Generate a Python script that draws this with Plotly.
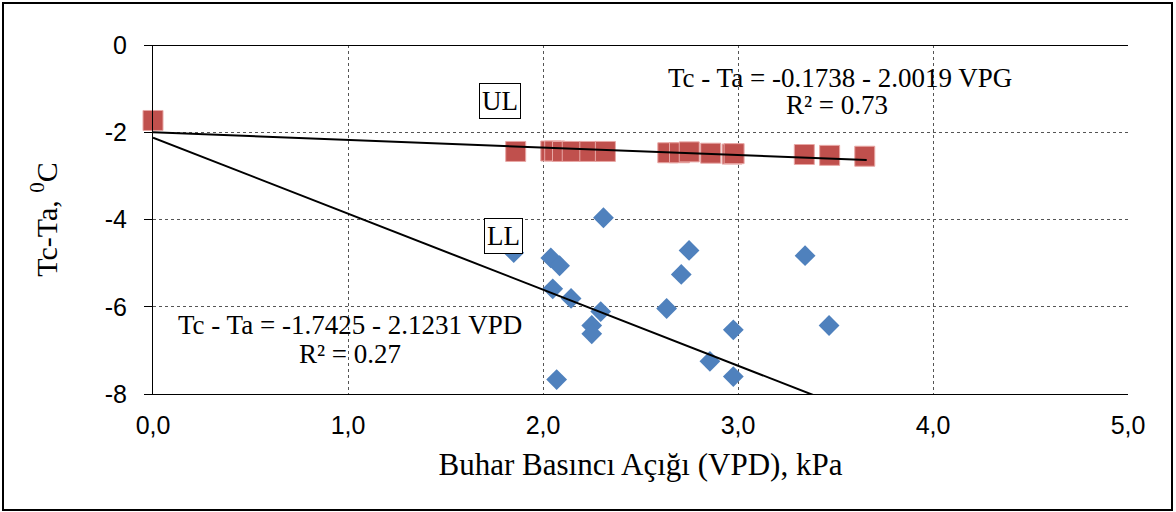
import plotly.graph_objects as go

# Upper limit (UL) data - red squares
ul_vpd = [0.0, 1.86, 2.04, 2.06, 2.10, 2.15, 2.24, 2.32, 2.64, 2.70, 2.75, 2.86, 2.97, 2.98, 3.34, 3.47, 3.65]
ul_dt = [-1.73, -2.44, -2.43, -2.43, -2.44, -2.44, -2.44, -2.44, -2.47, -2.47, -2.45, -2.48, -2.50, -2.49, -2.51, -2.53, -2.55]

# Lower limit (LL) data - blue diamonds
ll_vpd = [1.85, 2.31, 2.04, 2.085, 2.749, 2.709, 3.344, 2.05, 2.144, 2.296, 2.634, 2.25, 2.25, 2.976, 3.467, 2.856, 2.976, 2.07]
ll_dt = [-4.76, -3.96, -4.88, -5.06, -4.71, -5.26, -4.83, -5.59, -5.81, -6.11, -6.04, -6.43, -6.62, -6.53, -6.43, -7.25, -7.60, -7.67]

# Regression lines as drawn (intercept, slope, x-extent)
ul_line = {"b0": -2.0019, "b1": -0.1738, "x": [0.0, 3.66]}
ll_line = {"b0": -2.1231, "b1": -1.7425, "x": [0.0, 3.6]}

x_ticks = [0, 1, 2, 3, 4, 5]
x_tick_labels = ["0,0", "1,0", "2,0", "3,0", "4,0", "5,0"]
y_ticks = [0, -2, -4, -6, -8]
y_tick_labels = ["0", "-2", "-4", "-6", "-8"]

fig = go.Figure()

fig.add_trace(go.Scatter(
    x=ul_vpd, y=ul_dt, mode="markers",
    marker=dict(symbol="square", size=20, color="#C0504D",
                line=dict(color="#E8A7A5", width=1)),
    cliponaxis=False, showlegend=False))

fig.add_trace(go.Scatter(
    x=ll_vpd, y=ll_dt, mode="markers",
    marker=dict(symbol="diamond", size=16, color="#4F81BD",
                line=dict(color="#4F81BD", width=0)),
    showlegend=False))

for ln in (ul_line, ll_line):
    fig.add_trace(go.Scatter(
        x=ln["x"], y=[ln["b0"] + ln["b1"] * v for v in ln["x"]],
        mode="lines", line=dict(color="black", width=2),
        showlegend=False, hoverinfo="skip"))

serif = "Liberation Serif, Times New Roman, serif"
sans = "Liberation Sans, Arial, sans-serif"

fig.update_layout(
    width=1176, height=512,
    margin=dict(l=153, r=48, t=45, b=118),
    paper_bgcolor="white", plot_bgcolor="white",
    xaxis=dict(range=[0, 5], tickvals=x_ticks, ticktext=x_tick_labels,
               showgrid=True, gridcolor="#555555", griddash="dot", gridwidth=1,
               showline=True, linecolor="black", linewidth=1,
               zeroline=False, ticks="", ticklen=0, ticklabelstandoff=9,
               tickfont=dict(family=sans, size=25, color="black"),
               title=dict(text="Buhar Basıncı Açığı (VPD), kPa",
                          font=dict(family=serif, size=31, color="black"),
                          standoff=15)),
    yaxis=dict(range=[-8, 0], tickvals=y_ticks, ticktext=y_tick_labels,
               showgrid=True, gridcolor="#555555", griddash="dot", gridwidth=1,
               showline=True, linecolor="black", linewidth=1,
               zeroline=True, zerolinecolor="black", zerolinewidth=1,
               ticks="outside", ticklen=8, tickcolor="black", ticklabelstandoff=12,
               tickfont=dict(family=sans, size=25, color="black"),
               title=dict(text="Tc-Ta, <sup>0</sup>C",
                          font=dict(family=serif, size=30, color="black"),
                          standoff=38)),
)

ann_font = dict(family=serif, size=27, color="black")
box_font = dict(family=serif, size=27, color="black")
common = dict(xref="paper", yref="paper", showarrow=False,
              xanchor="center", yanchor="middle")
fig.add_annotation(x=(500-153)/975, y=1-(101-45)/349, text="UL", font=box_font,
                   bgcolor="white", bordercolor="black", borderwidth=1, borderpad=2, **common)
fig.add_annotation(x=(503-153)/975, y=1-(236-45)/349, text="LL", font=box_font,
                   bgcolor="white", bordercolor="black", borderwidth=1, borderpad=2, **common)
fig.add_annotation(x=(840-153)/975, y=1-(78-45)/349,
                   text="Tc - Ta = -0.1738 - 2.0019 VPG", font=ann_font, **common)
fig.add_annotation(x=(837-153)/975, y=1-(105-45)/349,
                   text="R² = 0.73", font=ann_font, **common)
fig.add_annotation(x=(350-153)/975, y=1-(325-45)/349,
                   text="Tc - Ta = -1.7425 - 2.1231 VPD", font=ann_font, **common)
fig.add_annotation(x=(350-153)/975, y=1-(354-45)/349,
                   text="R² = 0.27", font=ann_font, **common)

# outer chart frame
fig.add_shape(type="rect", xref="paper", yref="paper",
              x0=(3-153)/975, x1=(1172-153)/975,
              y0=(394-510)/349, y1=(394-3)/349,
              line=dict(color="black", width=2), layer="below")

fig.write_html("out.html", config={"displayModeBar": False},
               post_script="document.body.style.margin='0';")
